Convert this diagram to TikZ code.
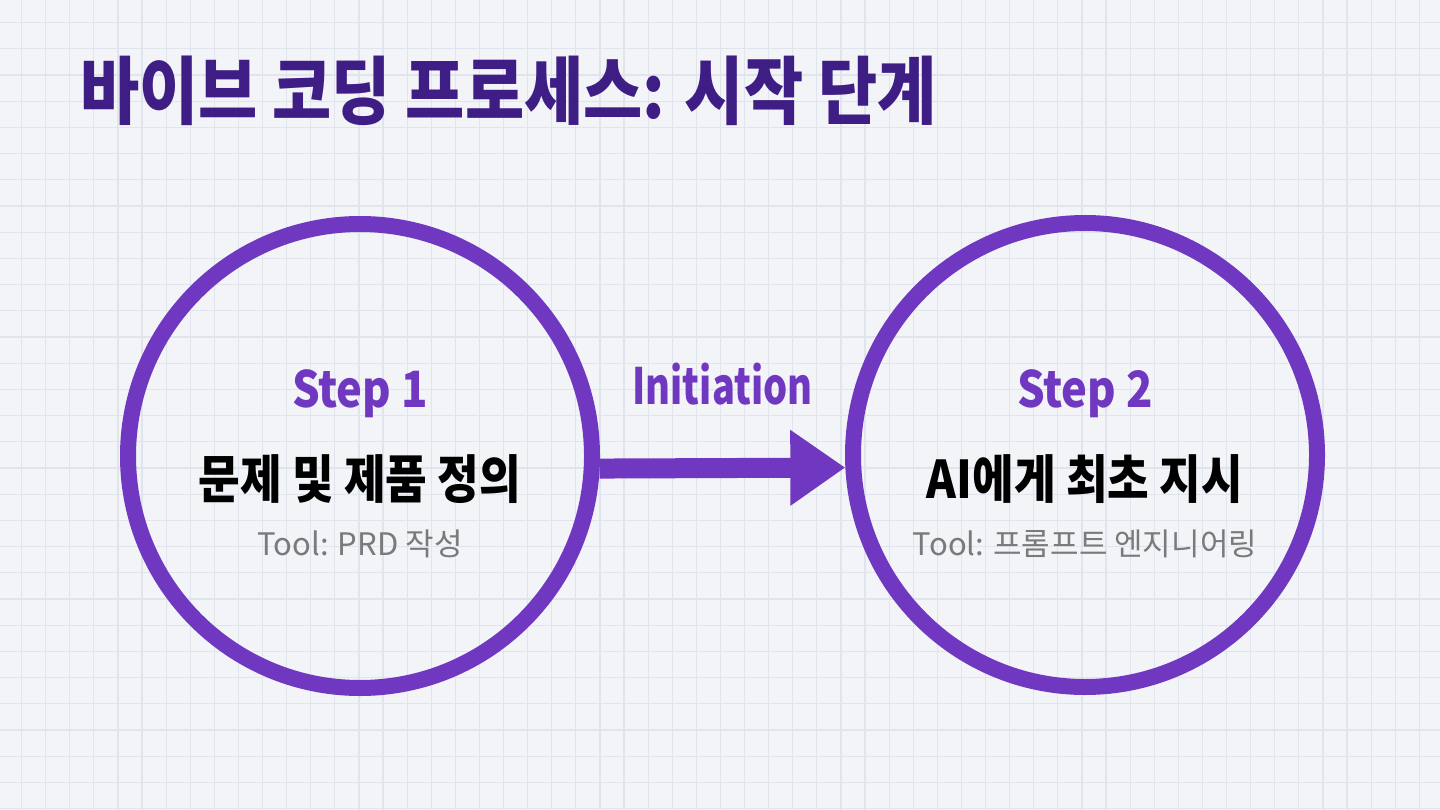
\documentclass[tikz,border=0pt]{standalone}
\usepackage{fontspec}
\setmainfont{Noto Sans CJK KR}
\newfontfamily\condfont{Noto Sans CJK KR}[FakeStretch=0.87]
\newfontfamily\narrowfont{Noto Sans CJK KR}[FakeStretch=0.76]
\usetikzlibrary{arrows.meta, positioning}
\definecolor{bgpaper}{RGB}{242,244,248}
\definecolor{gridgray}{RGB}{224,228,236}
\definecolor{ringpurple}{RGB}{112,56,192}
\definecolor{titlepurple}{RGB}{62,30,132}
\definecolor{toolgray}{RGB}{122,122,122}

\begin{document}
\begin{tikzpicture}[x=1pt, y=-1pt,
          every node/.style={align=center, inner sep=0pt},
          gridline/.style={draw=gridgray, line width=1.2pt},
          ring/.style={circle, draw=ringpurple, line width=16pt,
                       minimum size=464pt},
          steplbl/.style={font=\condfont\fontsize{50}{60}\selectfont\bfseries,
                          text=ringpurple},
          flowlbl/.style={font=\narrowfont\fontsize{50}{60}\selectfont\bfseries,
                          text=ringpurple},
          stepname/.style={font=\condfont\fontsize{52}{62}\selectfont\bfseries},
          tooltxt/.style={font=\fontsize{31}{37}\selectfont, text=toolgray},
          flow/.style={draw=ringpurple, line width=20pt,
                       -{Triangle[length=55pt, width=72pt]}}]
        % paper and grid
        \fill[bgpaper] (0,0) rectangle (1440,810);
        \useasboundingbox (0,0) rectangle (1440,810);
        \foreach \i in {0,...,58}
          \draw[gridline] ({21.5+24.1*\i},0) -- ({21.5+24.1*\i},810);
        \foreach \j in {0,...,30}
          \draw[gridline] (0,{22.6+26.2*\j}) -- (1440,{22.6+26.2*\j});
        % title
        \node[anchor=west, text=titlepurple,
              font=\condfont\fontsize{74}{88}\selectfont\bfseries]
              (title) at (80,91) {바이브 코딩 프로세스: 시작 단계};
        % the two steps
        \node[ring] (s1) at (360,456) {};
        \node[ring] (s2) at (1085,455) {};
        \node[stepname] (s1name) at ([yshift=-23pt]s1.center) {문제 및 제품 정의};
        \node[steplbl, above=36pt of s1name] (s1lbl) {Step 1};
        \node[tooltxt, below=26pt of s1name] (s1tool) {Tool: PRD 작성};
        \node[stepname] (s2name) at ([yshift=-24pt]s2.center) {AI에게 최초 지시};
        \node[steplbl, above=36pt of s2name] (s2lbl) {Step 2};
        \node[tooltxt, below=26pt of s2name] (s2tool) {Tool: 프롬프트 엔지니어링};
        % connector
        \draw[flow] (s1.-3.8) -- node[flowlbl, above=53pt] (init) {Initiation}
          (s2.183.8);
      \end{tikzpicture}
\end{document}
